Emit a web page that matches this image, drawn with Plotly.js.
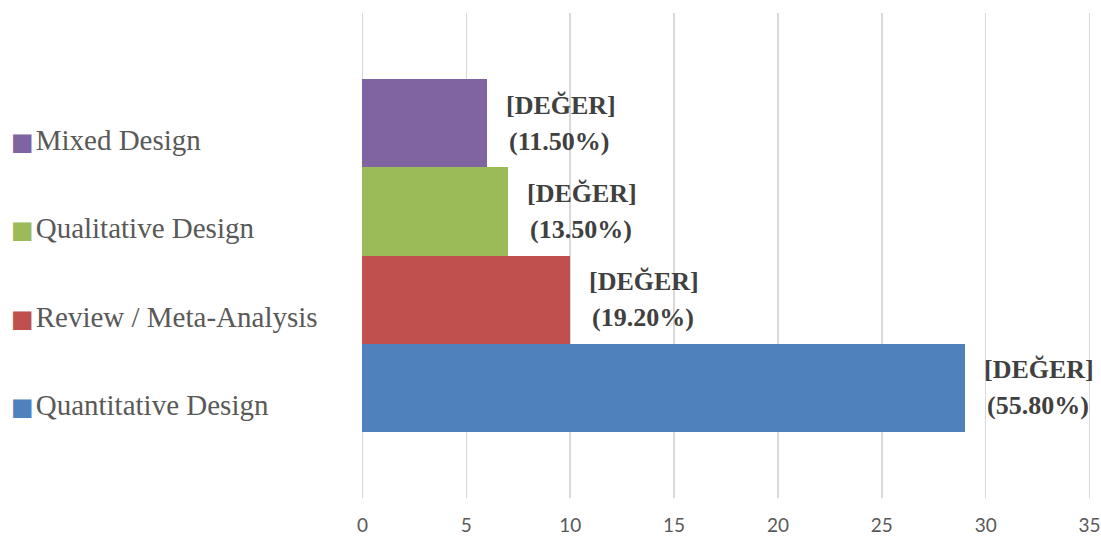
<!DOCTYPE html>
<html>
<head>
<meta charset="utf-8">
<script src="https://cdn.plot.ly/plotly-3.0.1.min.js"></script>
<style>
  html, body { margin: 0; padding: 0; background: #ffffff; }
  #chart { width: 1101px; height: 537px; }
</style>
</head>
<body>
<div id="chart"></div>
<script>
// Study designs, listed bottom to top
const categories = ['Quantitative Design', 'Review / Meta-Analysis', 'Qualitative Design', 'Mixed Design'];
const counts = [29, 10, 7, 6];
const shares = [55.8, 19.2, 13.5, 11.5];
const valueLabel = '[DEĞER]';
const colors = ['#4F81BD', '#C0504D', '#9BBB59', '#8064A2'];
const xTicks = [0, 5, 10, 15, 20, 25, 30, 35];

const W = 1101, H = 537;
const margin = { l: 361, r: 10, t: 13, b: 39, pad: 0 };
const plotW = W - margin.l - margin.r;

const traces = categories.map((name, i) => ({
  type: 'bar',
  orientation: 'h',
  name: name,
  y: [name],
  x: [counts[i]],
  marker: { color: colors[i], line: { width: 0 } },
  showlegend: false,
  hoverinfo: 'skip'
}));

const annotations = [];
const labelFont = { family: 'Liberation Serif', size: 26, color: '#404040' };
categories.forEach((name, i) => {
  // two-line value label beside each bar
  annotations.push({
    xref: 'x', yref: 'y', x: counts[i], y: name,
    xanchor: 'left', yanchor: 'middle', xshift: 17, yshift: 18,
    text: '<b>' + valueLabel + '</b>', showarrow: false, font: labelFont
  });
  annotations.push({
    xref: 'x', yref: 'y', x: counts[i], y: name,
    xanchor: 'left', yanchor: 'middle', xshift: 20, yshift: -18,
    text: '<b>(' + shares[i].toFixed(2) + '%)</b>', showarrow: false, font: labelFont
  });
  // legend entry: coloured key and series name
  annotations.push({
    xref: 'paper', yref: 'y', x: (9 - margin.l) / plotW, y: name,
    xanchor: 'left', yanchor: 'middle', yshift: -17,
    text: '<span style="color:' + colors[i] + ';font-family:DejaVu Sans;font-size:24px">■</span>' +
          '<span style="font-size:8px"> </span>' + name,
    showarrow: false,
    font: { family: 'Liberation Serif', size: 29, color: '#595959' }
  });
});

const layout = {
  width: W, height: H,
  margin: margin,
  paper_bgcolor: '#ffffff',
  plot_bgcolor: '#ffffff',
  barmode: 'overlay',
  bargap: 0,
  showlegend: false,
  xaxis: {
    range: [-0.07, 35.07],
    tickvals: xTicks,
    ticktext: xTicks.map(String),
    showgrid: true,
    gridcolor: '#d9d9d9',
    gridwidth: 1.5,
    zeroline: false,
    showline: false,
    ticks: '',
    ticklabelstandoff: 14,
    ticklabeloverflow: 'allow',
    tickfont: { family: 'Lato', size: 19, color: '#595959' },
    fixedrange: true
  },
  yaxis: {
    type: 'category',
    categoryorder: 'array',
    categoryarray: categories,
    range: [-1.246, 4.246],
    showgrid: false,
    zeroline: false,
    showline: false,
    showticklabels: false,
    ticks: '',
    fixedrange: true
  },
  annotations: annotations
};

Plotly.newPlot('chart', traces, layout, { staticPlot: true, displayModeBar: false });
</script>
</body>
</html>
